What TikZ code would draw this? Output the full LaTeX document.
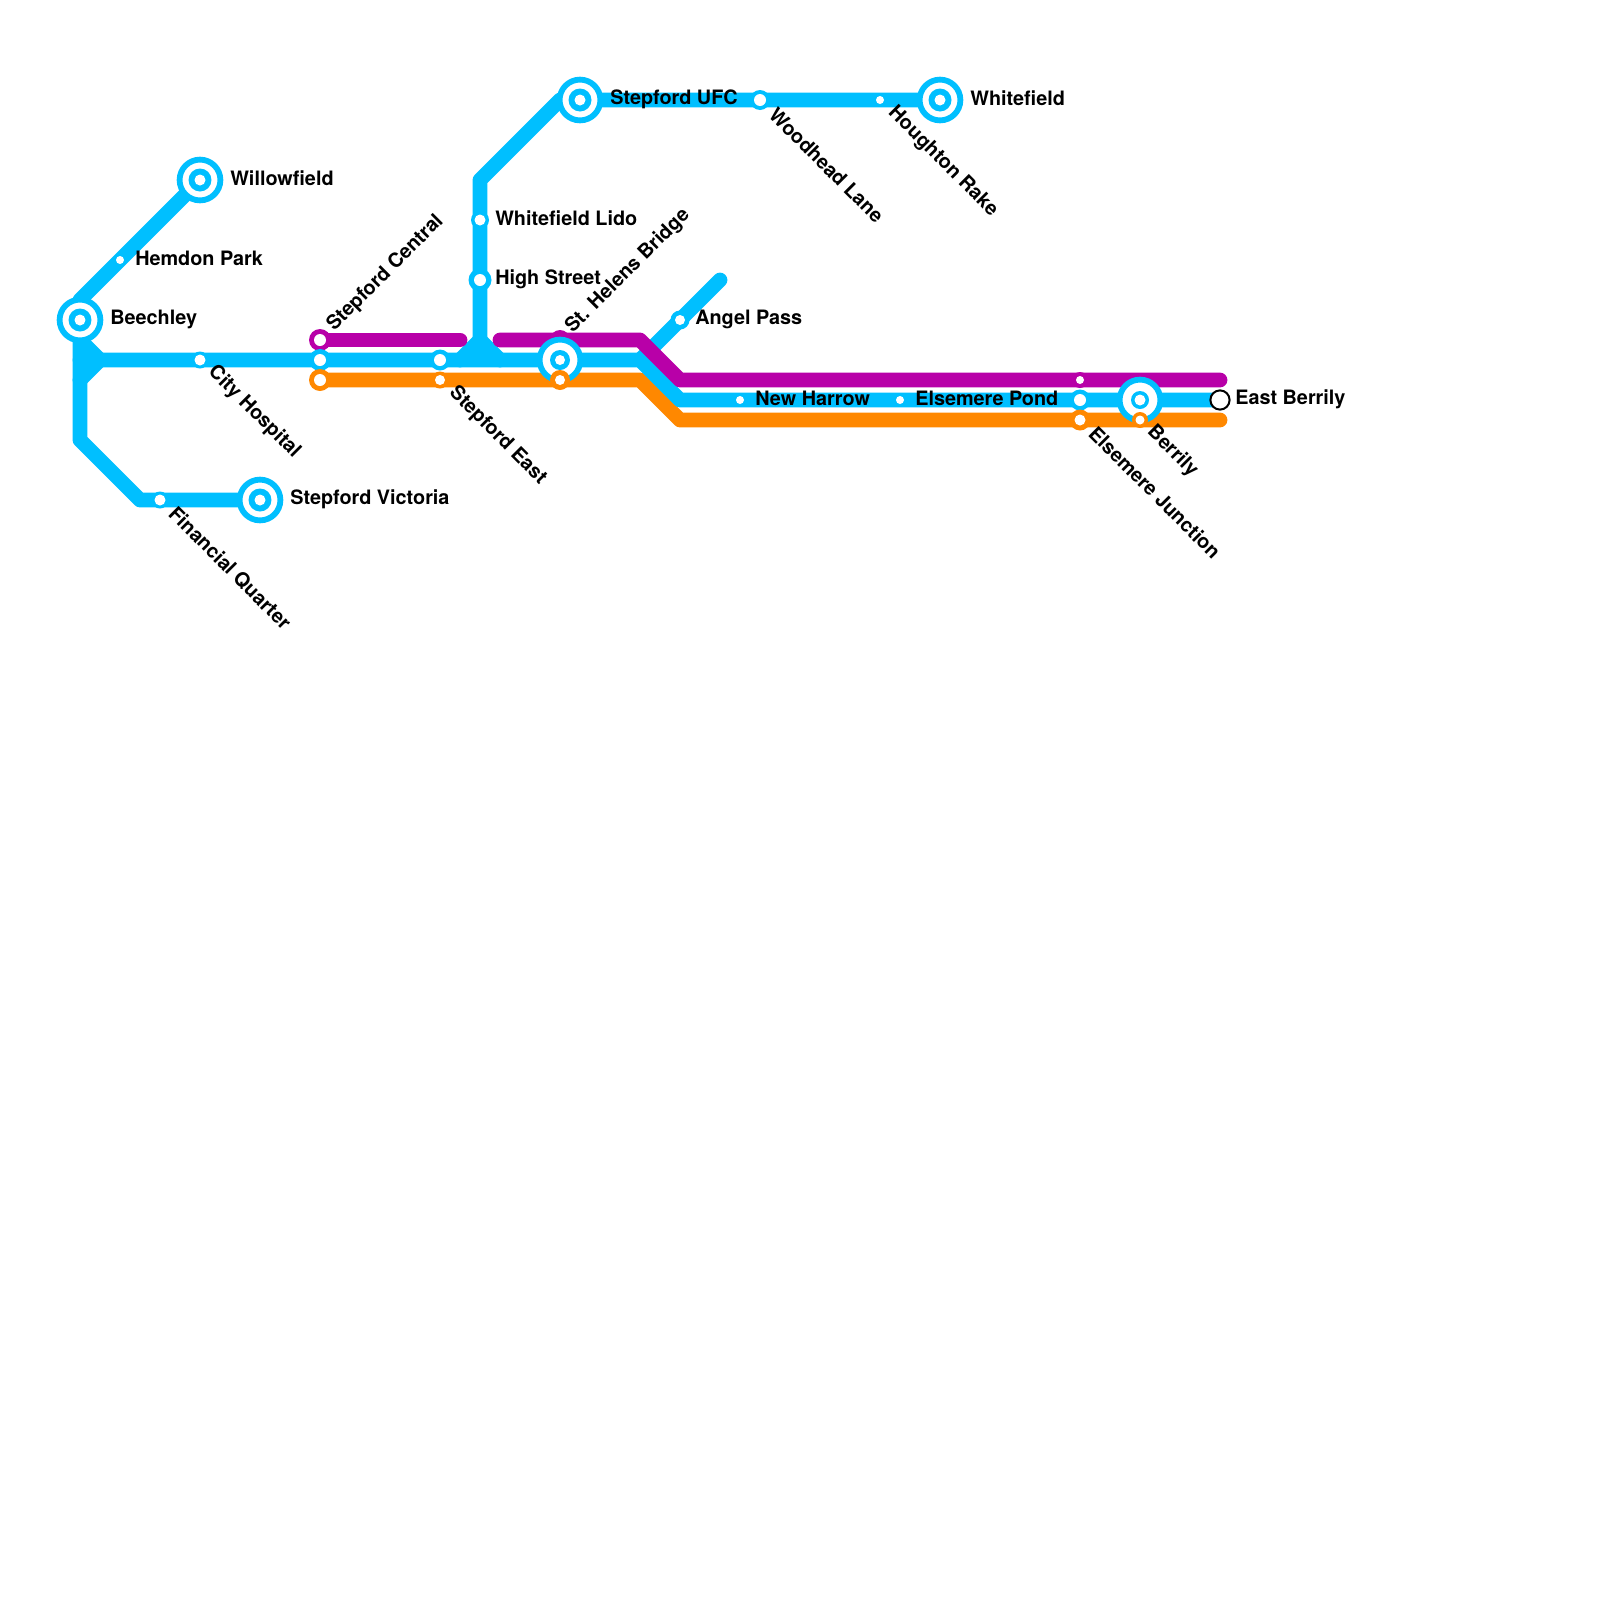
\documentclass[tikz,border=0pt]{standalone}
\usepackage{fontspec}
\setmainfont{TeX Gyre Heros}
\usetikzlibrary{positioning}
\definecolor{LineBlue}{HTML}{00BFFF}
\definecolor{LinePurple}{HTML}{B800A8}
\definecolor{LineOrange}{HTML}{FF8800}
\tikzset{
  route/.style={line width=0.37cm,line cap=round,line join=round},
  stn/.style={circle,inner sep=0pt,outer sep=0pt,minimum size=#1*0.025cm,fill=white},
  stop/.style={circle,inner sep=0pt,outer sep=0pt,minimum size=#1*0.025cm,fill=LineBlue},
  ringO/.style={circle,inner sep=0pt,outer sep=0pt,minimum size=#1*0.025cm,fill=LineOrange},
  ringP/.style={circle,inner sep=0pt,outer sep=0pt,minimum size=#1*0.025cm,fill=LinePurple},
  hub/.style={circle,inner sep=0pt,outer sep=0pt,minimum size=1.02cm,fill=white,draw=LineBlue,line width=0.145cm},
  lbl/.style={anchor=west,inner sep=0pt,font=\bfseries\fontsize{14.1}{17}\selectfont,text=black},
  lbldown/.style={lbl,rotate=-45},
  lblup/.style={lbl,rotate=45},
}
\begin{document}
\begin{tikzpicture}[x=0.5cm,y=-0.5cm]
\useasboundingbox[fill=white] (0,0) rectangle (80,80);
\coordinate (beechley) at (4,16);
\coordinate (willowfield) at (10,9);
\coordinate (bend1) at (4,15);
\coordinate (bend2) at (4,22);
\coordinate (bend3) at (7,25);
\coordinate (victoria) at (13,25);
\coordinate (wedge1) at (4,17);
\coordinate (wedge2) at (5,18);
\coordinate (wedge3) at (4,19);
\coordinate (west1) at (4,18);
\coordinate (bend4) at (32,18);
\coordinate (bend5) at (34,20);
\coordinate (east1) at (61,20);
\coordinate (wedge4) at (23,18);
\coordinate (wedge5) at (24,17);
\coordinate (wedge6) at (25,18);
\coordinate (bend6) at (24,9);
\coordinate (ufc) at (29,5);
\coordinate (bend7) at (28,5);
\coordinate (whitefield) at (47,5);
\coordinate (angel1) at (36,14);
\coordinate (pur1) at (16,17);
\coordinate (pur2) at (23,17);
\coordinate (pur3) at (25,17);
\coordinate (pur4) at (32,17);
\coordinate (pur5) at (34,19);
\coordinate (pur6) at (61,19);
\coordinate (ora1) at (16,19);
\coordinate (ora2) at (32,19);
\coordinate (ora3) at (34,21);
\coordinate (ora4) at (61,21);
% lines
\draw[route,LineOrange] (ora1) -- (ora2) -- (ora3) -- (ora4);
\draw[route,LineBlue] (willowfield) -- (bend1) -- (bend2) -- (bend3) -- (victoria);
\draw[route,LineBlue,fill=LineBlue] (wedge1) -- (wedge2) -- (wedge3);
\draw[route,LineBlue] (west1) -- (bend4) -- (bend5) -- (east1);
\draw[route,LineBlue] (angel1) -- (bend4);
\draw[route,LineBlue,fill=LineBlue] (wedge4) -- (wedge5) -- (wedge6);
\draw[route,LineBlue] (wedge5) -- (bend6) -- (bend7) -- (whitefield);
\draw[route,LinePurple] (pur1) -- (pur2);
\draw[route,LinePurple] (pur3) -- (pur4) -- (pur5) -- (pur6);
% stations
\node[stn=8] (hemdon) at (6,13) {};
\node[stop=17] (cityA) at (10,18) {};
\node[stn=11] (city) at (10,18) {};
\node[stop=17] (financialA) at (8,25) {};
\node[stn=11] (financial) at (8,25) {};
\node[ringP=22] (centralA) at (16,17) {};
\node[stn=12] (central) at (16,17) {};
\node[stop=22] (centralB) at (16,18) {};
\node[stn=12] (centralC) at (16,18) {};
\node[ringO=22] (centralD) at (16,19) {};
\node[stn=12] (centralE) at (16,19) {};
\node[stop=21] (eastA) at (22,18) {};
\node[stn=12] (eastB) at (22,18) {};
\node[ringO=17] (eastC) at (22,19) {};
\node[stn=10] (eastD) at (22,19) {};
\node[stop=18] (lidoA) at (24,11) {};
\node[stn=11] (lido) at (24,11) {};
\node[stop=23] (highA) at (24,14) {};
\node[stn=12] (high) at (24,14) {};
\node[ringP=20] (helensP) at (28,17) {};
\node[hub] (helensA) at (28,18) {};
\node[stop=20] (helensB) at (28,18) {};
\node[stn=10] (helens) at (28,18) {};
\node[ringO=20] (helensC) at (28,19) {};
\node[stn=10] (helensD) at (28,19) {};
\node[stop=20] (woodheadA) at (38,5) {};
\node[stn=12] (woodhead) at (38,5) {};
\node[stn=8] (houghton) at (44,5) {};
\node[stop=19] (angelA) at (34,16) {};
\node[stn=10] (angel) at (34,16) {};
\node[stn=8] (harrow) at (37,20) {};
\node[stn=8] (pond) at (45,20) {};
\node[ringP=16] (junctionP) at (54,19) {};
\node[stn=8] (junctionA) at (54,19) {};
\node[stop=21] (junctionB) at (54,20) {};
\node[stn=12] (junctionC) at (54,20) {};
\node[ringO=21] (junctionD) at (54,21) {};
\node[stn=11] (junctionE) at (54,21) {};
\node[hub] (beechleyA) at (beechley) {};
\node[stop=23] (beechleyB) at (beechley) {};
\node[stn=11] (beechleyC) at (beechley) {};
\node[hub] (willowA) at (willowfield) {};
\node[stop=23] (willowB) at (willowfield) {};
\node[stn=11] (willowC) at (willowfield) {};
\node[hub] (victoriaA) at (victoria) {};
\node[stop=23] (victoriaB) at (victoria) {};
\node[stn=11] (victoriaC) at (victoria) {};
\node[hub] (ufcA) at (ufc) {};
\node[stop=23] (ufcB) at (ufc) {};
\node[stn=11] (ufcC) at (ufc) {};
\node[hub] (whitefieldA) at (whitefield) {};
\node[stop=23] (whitefieldB) at (whitefield) {};
\node[stn=11] (whitefieldC) at (whitefield) {};
\node[hub] (berrilyA) at (57,20) {};
\node[stop=18] (berrilyB) at (57,20) {};
\node[stn=11] (berrilyC) at (57,20) {};
\node[ringO=16] (berrilyD) at (57,21) {};
\node[stn=9] (berrilyE) at (57,21) {};
\node[circle,inner sep=0pt,outer sep=0pt,minimum size=0.48cm,fill=white,draw=black,line width=0.05cm] (eastberrily) at (61,20) {};
% labels
\node[lbl] (tBeechley) at (5.5,15.97) {Beechley};
\node[lbl] (tWillow) at (11.5,8.9) {Willowfield};
\node[lbl] (tHemdon) at (6.75,12.9) {Hemdon Park};
\node[lbl] (tVictoria) at (14.5,24.97) {Stepford Victoria};
\node[lbl] (tLido) at (24.75,10.9) {Whitefield Lido};
\node[lbl] (tHigh) at (24.75,13.95) {High Street};
\node[lbl] (tUfc) at (30.5,4.95) {Stepford UFC};
\node[lbl] (tWhite) at (48.5,4.9) {Whitefield};
\node[lbl] (tAngel) at (34.75,15.95) {Angel Pass};
\node[lbl] (tHarrow) at (37.75,19.9) {New Harrow};
\node[lbl] (tPond) at (45.75,19.9) {Elsemere Pond};
\node[lbl] (tEast) at (61.75,19.95) {East Berrily};
\node[lbldown] (tCity) at (10.55,18.45) {City Hospital};
\node[lbldown] (tFinancial) at (8.6,25.5) {Financial Quarter};
\node[lbldown] (tStepEast) at (22.6,19.5) {Stepford East};
\node[lbldown] (tWoodhead) at (38.62,5.55) {Woodhead Lane};
\node[lbldown] (tHoughton) at (44.55,5.5) {Houghton Rake};
\node[lbldown] (tJunction) at (54.62,21.5) {Elsemere Junction};
\node[lbldown] (tBerrily) at (57.5,21.45) {Berrily};
\node[lblup] (tCentral) at (16.52,16.42) {Stepford Central};
\node[lblup] (tHelens) at (28.45,16.5) {St. Helens Bridge};
\end{tikzpicture}
\end{document}
